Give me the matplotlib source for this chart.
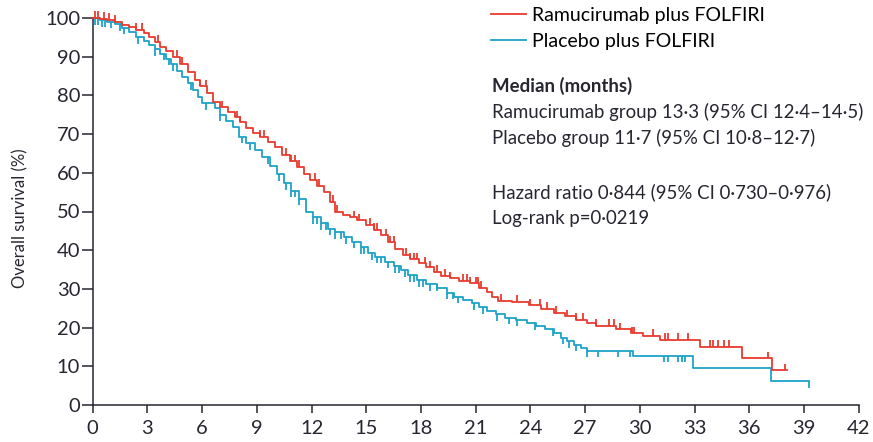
import numpy as np
import matplotlib
matplotlib.use('Agg')
import matplotlib.pyplot as plt
from matplotlib import font_manager

# Kaplan-Meier steps: (month at which the step starts, overall survival %)
ram_times = [0, 0.4, 0.8, 1.2, 1.6, 2.0, 2.4, 2.8, 3.1, 3.4, 3.7, 4.0, 4.4, 4.8, 5.2, 5.6,
             5.9, 6.25, 6.6, 7.0, 7.4, 7.8, 8.1, 8.4, 8.8, 9.2, 9.6, 10.0, 10.4, 10.8, 11.2,
             11.6, 11.9, 12.3, 12.7, 13.0, 13.3, 13.7, 14.1, 14.5, 15.0, 15.4, 15.8, 16.2,
             16.6, 17.0, 17.4, 17.9, 18.3, 18.7, 19.1, 19.6, 20.1, 20.7, 21.2, 21.6, 21.9,
             22.2, 23.0, 23.9, 24.6, 25.3, 25.9, 26.5, 27.1, 27.6, 28.7, 29.5, 30.2, 31.1,
             33.3, 35.6, 37.25, 38.05]
ram_surv = [100, 99.8, 99.5, 99.0, 98.3, 97.6, 97.0, 96.2, 95.0, 93.8, 92.6, 91.6, 90.0, 88.2,
            86.0, 84.0, 82.3, 80.5, 78.2, 76.9, 75.6, 74.3, 73.0, 71.6, 70.3, 69.3, 68.0, 66.6,
            64.6, 63.0, 61.5, 59.8, 58.2, 56.7, 55.0, 52.5, 50.0, 49.2, 48.5, 47.7, 46.6, 45.2,
            43.8, 42.0, 40.3, 38.8, 37.6, 36.6, 35.6, 34.4, 33.4, 32.7, 32.1, 31.4, 30.3, 29.2,
            28.0, 27.0, 26.6, 25.8, 24.8, 23.8, 22.9, 22.0, 21.2, 20.4, 19.6, 18.5, 17.9, 16.8,
            15.1, 12.1, 9.0, 9.0]

pla_times = [0, 0.4, 0.8, 1.2, 1.6, 2.0, 2.4, 2.8, 3.1, 3.4, 3.7, 4.0, 4.3, 4.6, 4.9, 5.2,
             5.5, 5.8, 6.0, 6.7, 7.0, 7.3, 7.7, 8.0, 8.4, 8.9, 9.3, 9.7, 10.1, 10.5, 10.9,
             11.3, 11.7, 12.1, 12.5, 12.9, 13.3, 13.8, 14.2, 14.7, 15.1, 15.5, 16.0, 16.5,
             16.9, 17.3, 17.8, 18.3, 18.9, 19.4, 19.8, 20.3, 20.8, 21.2, 21.6, 22.1, 22.6,
             23.2, 23.8, 24.3, 24.8, 25.3, 25.7, 26.0, 26.4, 26.8, 27.1, 29.64, 32.93, 37.2,
             39.3]
pla_surv = [100, 99.5, 99.0, 98.4, 97.5, 96.3, 95.1, 94.0, 93.0, 91.9, 90.8, 89.5, 88.0, 86.4,
            84.8, 83.1, 81.3, 79.6, 78.0, 76.7, 75.0, 73.5, 71.8, 69.3, 67.6, 66.0, 64.0, 61.8,
            59.6, 57.3, 55.4, 53.3, 50.0, 48.5, 47.0, 45.6, 44.6, 43.4, 42.2, 40.8, 39.2, 38.3,
            37.0, 35.8, 34.8, 33.5, 32.3, 31.2, 30.2, 29.0, 28.0, 27.1, 26.3, 25.3, 24.3, 23.4,
            22.6, 22.0, 21.2, 20.4, 19.6, 18.5, 17.4, 16.5, 15.6, 14.8, 14.0, 12.75, 9.5, 6.2,
            6.2]

# censored patients (months)
ram_censor = [0.1, 0.3, 0.6, 0.9, 1.2, 2.4, 2.7, 3.6, 4.6, 4.9, 5.9, 6.2, 7.1, 7.9, 8.1, 9.2,
              9.4, 10.6, 10.9, 11.1, 11.3, 12.2, 12.4, 13.2, 13.4, 14.3, 14.6, 15.2, 15.4,
              15.6, 16.1, 16.3, 16.5, 17.2, 17.4, 17.6, 17.8, 18.2, 18.5, 18.9, 19.3, 19.6,
              20.3, 20.5, 20.7, 21.0, 21.1, 21.3, 22.4, 23.25, 24.0, 24.5, 24.9, 25.4, 26.0,
              26.5, 26.9, 27.6, 28.3, 28.6, 28.9, 29.55, 29.7, 30.7, 31.4, 31.55, 32.1, 32.65,
              33.85, 34.0, 34.3, 34.6, 34.9, 37.05, 37.95]
pla_censor = [0.1, 0.3, 0.5, 0.7, 1.0, 1.5, 1.7, 2.5, 3.4, 3.9, 4.2, 4.4, 5.4, 6.2, 7.0, 8.2,
              8.6, 9.6, 10.2, 10.6, 10.9, 11.1, 11.3, 12.1, 12.3, 12.5, 12.8, 13.0, 13.3, 13.6,
              13.9, 14.3, 14.7, 14.9, 15.3, 15.6, 15.8, 16.2, 16.6, 16.8, 17.1, 17.4, 17.6,
              17.9, 18.12, 18.5, 18.86, 19.4, 19.77, 20.04, 20.9, 21.4, 22.15, 22.8, 23.25,
              24.25, 25.25, 25.8, 26.1, 26.5, 27.1, 27.7, 28.8, 29.45, 31.3, 31.55, 32.1, 32.3,
              32.5, 39.3]

legend_labels = ['Ramucirumab plus FOLFIRI', 'Placebo plus FOLFIRI']
x_ticks = list(range(0, 43, 3))
y_ticks = list(range(0, 101, 10))

RED = '#ea3a2e'
BLUE = '#1ca3c8'
INK = '#262630'

installed = {f.name for f in font_manager.fontManager.ttflist}
fam = [f for f in ['Liberation Sans Narrow', 'Lato', 'DejaVu Sans'] if f in installed]
plt.rcParams['font.family'] = fam


def surv_at(times, surv, t):
    idx = np.searchsorted(times, t, side='right') - 1
    return np.asarray(surv)[idx]


fig = plt.figure(figsize=(8.73, 4.42), dpi=100)
ax = fig.add_axes([92.7 / 873, 37 / 442, 766 / 873, 387 / 442])

ax.plot(ram_times, ram_surv, drawstyle='steps-post', color=RED, lw=1.3,
        label=legend_labels[0], clip_on=False, zorder=3)
ax.plot(pla_times, pla_surv, drawstyle='steps-post', color=BLUE, lw=1.3,
        label=legend_labels[1], clip_on=False, zorder=2)

# censor ticks: up for ramucirumab, down for placebo
rc = surv_at(ram_times, ram_surv, ram_censor)
ax.vlines(ram_censor, rc, rc + 1.7, color=RED, lw=1.3, clip_on=False, zorder=3)
pc = surv_at(pla_times, pla_surv, pla_censor)
ax.vlines(pla_censor, pc - 1.7, pc, color=BLUE, lw=1.3, clip_on=False, zorder=2)

ax.set_xlim(0, 42)
ax.set_ylim(0, 100)
ax.set_xticks(x_ticks)
ax.set_yticks(y_ticks)
for s in ['top', 'right']:
    ax.spines[s].set_visible(False)
for s in ['left', 'bottom']:
    ax.spines[s].set_linewidth(1.1)
    ax.spines[s].set_color(INK)
ax.tick_params(axis='x', direction='out', length=6, width=1.1, color=INK,
               labelsize=14.5, labelcolor=INK, pad=5)
ax.tick_params(axis='y', direction='out', length=8, width=1.1, color=INK,
               labelsize=14.5, labelcolor=INK, pad=1)

ax.set_ylabel('Overall survival (%)', fontsize=12, color=INK)
ax.yaxis.set_label_coords(-0.084, 0.482)

ax.legend(loc='upper left', bbox_to_anchor=(491 / 873, 1 - 7 / 442),
          bbox_transform=fig.transFigure, frameon=False, fontsize=14,
          handlelength=1.8, handletextpad=0.3, labelspacing=0.45,
          borderpad=0, borderaxespad=0)

tx = 491.7 / 873
fs = 13.4
fig.text(tx, 1 - 86 / 442, 'Median (months)', fontsize=fs, fontweight='bold',
         color=INK, va='center')
fig.text(tx, 1 - 111.7 / 442, 'Ramucirumab group 13·3 (95% CI 12·4–14·5)', fontsize=fs,
         color=INK, va='center')
fig.text(tx, 1 - 138.3 / 442, 'Placebo group 11·7 (95% CI 10·8–12·7)', fontsize=fs,
         color=INK, va='center')
fig.text(tx, 1 - 192.7 / 442, 'Hazard ratio 0·844 (95% CI 0·730–0·976)', fontsize=fs,
         color=INK, va='center')
fig.text(tx, 1 - 218.3 / 442, 'Log-rank p=0·0219', fontsize=fs, color=INK, va='center')

fig.savefig('out.png', dpi=100)
